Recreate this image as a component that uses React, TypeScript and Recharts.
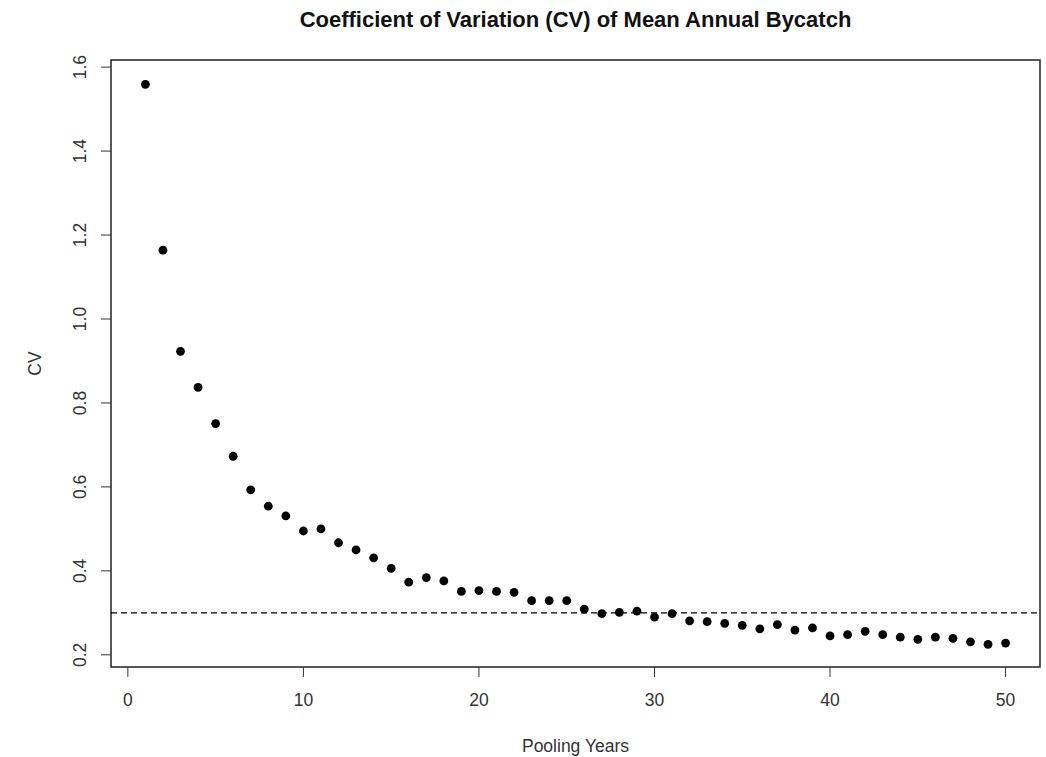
import React from 'react';
import { ScatterChart, Scatter, XAxis, YAxis, ReferenceLine, ReferenceArea } from 'recharts';

const poolingYears = [
  1, 2, 3, 4, 5, 6, 7, 8, 9, 10, 11, 12, 13, 14, 15, 16, 17, 18, 19, 20, 21, 22, 23, 24, 25,
  26, 27, 28, 29, 30, 31, 32, 33, 34, 35, 36, 37, 38, 39, 40, 41, 42, 43, 44, 45, 46, 47, 48, 49, 50,
];
const cvValues = [
  1.559, 1.164, 0.923, 0.837, 0.751, 0.673, 0.593, 0.554, 0.531, 0.495,
  0.5, 0.467, 0.45, 0.431, 0.406, 0.373, 0.384, 0.376, 0.351, 0.353,
  0.351, 0.349, 0.329, 0.329, 0.329, 0.309, 0.298, 0.301, 0.304, 0.29,
  0.298, 0.281, 0.279, 0.275, 0.27, 0.262, 0.272, 0.259, 0.264, 0.245,
  0.248, 0.256, 0.248, 0.242, 0.237, 0.242, 0.239, 0.231, 0.225, 0.228,
];
const xTicks = [0, 10, 20, 30, 40, 50];
const yTicks = [0.2, 0.4, 0.6, 0.8, 1.0, 1.2, 1.4, 1.6];
const cvTarget = 0.3;

const data = poolingYears.map((year, i) => ({ year, cv: cvValues[i] }));

// R pads the data range by 4% on each side
const xDomain = [-0.96, 51.96];
const yDomain = [0.171, 1.617];

const font = '"Liberation Sans", Arial, sans-serif';

const XTick = (props: any) => {
  const { x, y, payload } = props;
  return (
    <text x={x} y={y + 27} textAnchor="middle" fontSize={17.5} fill="#333" fontFamily={font}>
      {payload.value}
    </text>
  );
};

const YTick = (props: any) => {
  const { x, y, payload } = props;
  const tx = x - 13;
  return (
    <text
      x={tx}
      y={y}
      textAnchor="middle"
      fontSize={17.5}
      fill="#333"
      fontFamily={font}
      transform={`rotate(-90, ${tx}, ${y})`}
    >
      {Number(payload.value).toFixed(1)}
    </text>
  );
};

const YLabel = (props: any) => {
  const { viewBox } = props;
  const cx = 41;
  const cy = viewBox.y + viewBox.height / 2;
  return (
    <text
      x={cx}
      y={cy}
      textAnchor="middle"
      fontSize={17.5}
      fill="#333"
      fontFamily={font}
      transform={`rotate(-90, ${cx}, ${cy})`}
    >
      CV
    </text>
  );
};

const Dot = (props: any) => <circle cx={props.cx} cy={props.cy} r={4.4} fill="#000" />;

export default function App() {
  return (
    <div style={{ position: 'absolute', left: 0, top: 0, width: 1046, height: 757, background: '#fff' }}>
      <div
        style={{
          position: 'absolute',
          left: 111,
          width: 929,
          top: 7,
          textAlign: 'center',
          fontFamily: font,
          fontWeight: 'bold',
          fontSize: 22,
          color: '#111',
        }}
      >
        Coefficient of Variation (CV) of Mean Annual Bycatch
      </div>
      <ScatterChart width={1046} height={757} margin={{ top: 60, right: 6, bottom: 0, left: 0 }}>
        <XAxis
          type="number"
          dataKey="year"
          domain={xDomain}
          ticks={xTicks}
          interval={0}
          axisLine={false}
          tickSize={10}
          tickLine={{ stroke: '#333' }}
          tick={<XTick />}
          height={90}
          label={{ value: 'Pooling Years', position: 'insideBottom', offset: 5, fontSize: 17.5, fill: '#333', fontFamily: font }}
        />
        <YAxis
          type="number"
          dataKey="cv"
          domain={yDomain}
          ticks={yTicks}
          interval={0}
          axisLine={false}
          tickSize={10}
          tickLine={{ stroke: '#333' }}
          tick={<YTick />}
          width={111}
          label={<YLabel />}
        />
        <ReferenceArea
          x1={xDomain[0]}
          x2={xDomain[1]}
          y1={yDomain[0]}
          y2={yDomain[1]}
          fill="none"
          fillOpacity={0}
          stroke="#222"
          strokeWidth={1.5}
        />
        <ReferenceLine y={cvTarget} stroke="#000" strokeDasharray="6 4" strokeWidth={1.2} />
        <Scatter data={data} fill="#000" shape={<Dot />} isAnimationActive={false} />
      </ScatterChart>
    </div>
  );
}
